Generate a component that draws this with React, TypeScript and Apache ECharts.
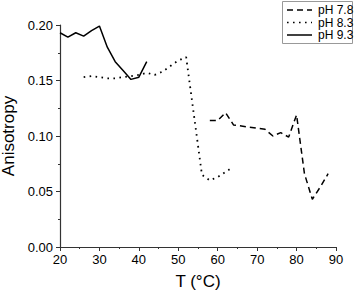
import React, { useEffect, useRef } from "react";
import * as echarts from "echarts";

const ph78: [number, number][] = [
  [58, 0.114], [60, 0.114], [62, 0.121], [64, 0.110], [66, 0.109], [68, 0.108],
  [70, 0.107], [72, 0.106], [74, 0.100], [76, 0.103], [78, 0.099], [80, 0.119],
  [82, 0.066], [84, 0.043], [86, 0.054], [88, 0.066],
];
const ph83: [number, number][] = [
  [26, 0.153], [28, 0.154], [30, 0.153], [32, 0.152], [34, 0.152], [36, 0.153],
  [38, 0.154], [40, 0.155], [42, 0.157], [44, 0.155], [46, 0.158], [48, 0.163],
  [50, 0.168], [52, 0.171], [56, 0.065], [58, 0.060], [60, 0.063], [63, 0.070],
];
const ph93: [number, number][] = [
  [20, 0.193], [22, 0.189], [24, 0.193], [26, 0.190], [28, 0.195], [30, 0.199],
  [32, 0.180], [34, 0.167], [36, 0.159], [38, 0.151], [40, 0.153], [42, 0.167],
];
const seriesNames = ["pH 7.8", "pH 8.3", "pH 9.3"];
const dashes: (number[] | null)[] = [[6, 4], [1.6, 4.4], null];

const FONT = "Liberation Sans, Arial, sans-serif";

export default function App() {
  const ref = useRef<HTMLDivElement>(null);
  useEffect(() => {
    const chart = echarts.init(ref.current!, undefined, { renderer: "svg" });
    const axisCommon = {
      axisLine: { show: true, lineStyle: { color: "#333", width: 1.2 } },
      axisTick: { show: true, inside: false, length: 4, lineStyle: { color: "#333" } },
      minorTick: { show: true, splitNumber: 2, length: 2, lineStyle: { color: "#333" } },
      splitLine: { show: false },
      axisLabel: { color: "#000", fontFamily: FONT, fontSize: 13 },
    };
    const legendItems: any[] = [
      {
        type: "rect",
        shape: { x: 282.5, y: 1.5, width: 70, height: 42 },
        style: { fill: "#fff", stroke: "#999", lineWidth: 1 },
      },
    ];
    seriesNames.forEach((n, i) => {
      const y = 10 + i * 12.5;
      legendItems.push({
        type: "line",
        shape: { x1: 287, y1: y, x2: 312, y2: y },
        style: { stroke: "#000", lineWidth: 1.5, lineDash: dashes[i] || undefined },
      });
      legendItems.push({
        type: "text",
        x: 318,
        y: y,
        style: {
          text: n,
          fontFamily: FONT,
          fontSize: 12,
          fill: "#000",
          textVerticalAlign: "middle",
          verticalAlign: "middle",
        },
      });
    });
    chart.setOption({
      animation: false,
      backgroundColor: "#fff",
      grid: {
        left: 60,
        right: 18,
        top: 25,
        bottom: 45,
        containLabel: false,
        outerBoundsMode: "none",
      },
      graphic: legendItems,
      xAxis: {
        type: "value",
        min: 20,
        max: 90,
        interval: 10,
        name: "T (°C)",
        nameLocation: "middle",
        nameGap: 26,
        nameTextStyle: { fontFamily: FONT, fontSize: 17, color: "#000" },
        ...axisCommon,
        axisLabel: { ...axisCommon.axisLabel, margin: 6 },
      },
      yAxis: {
        type: "value",
        min: 0,
        max: 0.2,
        interval: 0.05,
        name: "Anisotropy",
        nameLocation: "middle",
        nameGap: 40,
        nameTextStyle: { fontFamily: FONT, fontSize: 17, color: "#000" },
        ...axisCommon,
        axisLabel: {
          ...axisCommon.axisLabel,
          margin: 7,
          formatter: (v: number) => v.toFixed(2),
        },
      },
      series: [0, 1, 2].map((i) => ({
        name: seriesNames[i],
        type: "line",
        data: [ph78, ph83, ph93][i],
        symbol: "none",
        lineStyle: {
          color: "#000",
          width: i === 1 ? 1.8 : 1.5,
          type: dashes[i] || "solid",
        },
      })),
    });
    return () => chart.dispose();
  }, []);
  return <div ref={ref} style={{ width: 354, height: 292, position: "absolute", left: 0, top: 0 }} />;
}
